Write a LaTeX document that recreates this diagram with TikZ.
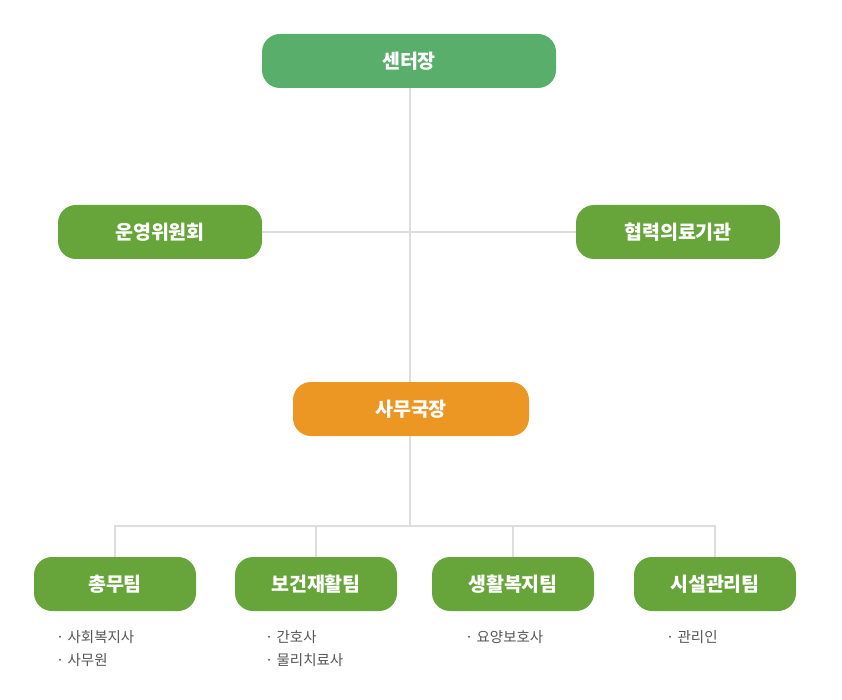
\documentclass[tikz,border=0pt]{standalone}
\usepackage{fontspec}
\setmainfont{Noto Sans CJK KR}
\usetikzlibrary{positioning}
\definecolor{ctrgreen}{HTML}{5AAE6C}
\definecolor{teamgreen}{HTML}{67A53B}
\definecolor{headorange}{HTML}{EC9624}
\definecolor{linegray}{HTML}{DDDDDD}
\definecolor{textgray}{HTML}{555555}
\begin{document}
\begin{tikzpicture}[x=1pt, y=-1pt,
    unit/.style={rectangle, rounded corners=18pt, minimum height=54pt, inner sep=0pt,
        text=white, font=\fontsize{19.5}{22}\selectfont\bfseries},
    link/.style={draw=linegray, line width=2pt},
    staff/.style={anchor=north west, align=left, inner sep=0pt, text=textgray,
        font=\fontsize{14.5}{23}\selectfont}]
    \useasboundingbox (0,0) rectangle (842,700);

    % Top: centre head
    \node[unit, fill=ctrgreen, minimum width=294pt] (head) at (409,61) {센터장};

    % Side bodies
    \node[unit, fill=teamgreen, minimum width=204pt] (committee) at (160,232) {운영위원회};
    \node[unit, fill=teamgreen, minimum width=204pt] (hospital) at (678,232) {협력의료기관};

    % Office director
    \node[unit, fill=headorange, minimum width=236pt] (director) at (411,409) {사무국장};

    % Teams
    \node[unit, fill=teamgreen, minimum width=162pt] (general) at (115,584) {총무팀};
    \node[unit, fill=teamgreen, minimum width=162pt] (rehab) at (316,584) {보건재활팀};
    \node[unit, fill=teamgreen, minimum width=162pt] (welfare) at (513,584) {생활복지팀};
    \node[unit, fill=teamgreen, minimum width=162pt] (facility) at (715,584) {시설관리팀};
    \coordinate (bus) at (410,526);

    % Connections
    \begin{scope}[on background layer/.try]
    \draw[link] (head.south -| bus) -- (director.north -| bus);
    \draw[link] (committee.east) -- (hospital.west);
    \draw[link] (director.south -| bus) -- (bus);
    \draw[link] (general.north) -- (general.north |- bus) -- (facility.north |- bus) -- (facility.north);
    \draw[link] (rehab.north) -- (rehab.north |- bus);
    \draw[link] (welfare.north) -- (welfare.north |- bus);
    \end{scope}

    % Staff of each team
    \node[staff] (generalstaff) at (56,630) {· 사회복지사\\· 사무원};
    \node[staff] (rehabstaff) at (265,630) {· 간호사\\· 물리치료사};
    \node[staff] (welfarestaff) at (465,630) {· 요양보호사};
    \node[staff] (facilitystaff) at (666,630) {· 관리인};
\end{tikzpicture}
\end{document}
